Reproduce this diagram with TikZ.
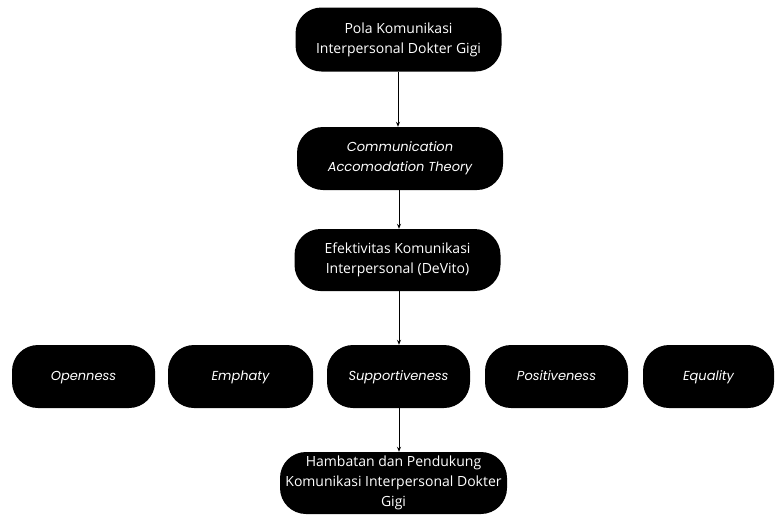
\documentclass[tikz,border=0pt]{standalone}
\usepackage{fontspec}
\setmainfont{Open Sans}
\newfontfamily\itfont{Poppins}[UprightFont=*-Italic]
\usetikzlibrary{arrows.meta}
\tikzset{
  pill/.style={fill=black, rounded corners=26pt, text=white, align=center, inner sep=0pt, font=\fontsize{14}{20}\selectfont},
  pillit/.style={pill, font=\fontsize{13}{20}\selectfont\itfont},
  single/.style={text height=10pt, text depth=3pt},
  conn/.style={draw=black, line width=1pt, -{Stealth[length=5pt,width=4pt]}}
}
\begin{document}
\begin{tikzpicture}[x=1pt,y=-1pt]
\useasboundingbox (0,0) rectangle (776,515);
\node[pill, minimum width=206pt, minimum height=64pt] (a) at (398.5,39.5) {Pola Komunikasi\\Interpersonal Dokter Gigi};
\node[pillit, minimum width=206pt, minimum height=63pt] (b) at (400,158.5) {Communication\\Accomodation Theory};
\node[pill, minimum width=206pt, minimum height=62pt] (c) at (397.5,260) {Efektivitas Komunikasi\\Interpersonal (DeVito)};
\node[pillit, single, minimum width=143pt, minimum height=63pt] (o) at (83.5,376.5) {Openness};
\node[pillit, single, minimum width=145pt, minimum height=63pt] (e) at (240.5,376.5) {Emphaty};
\node[pillit, single, minimum width=143pt, minimum height=63pt] (s) at (398.5,376.5) {Supportiveness};
\node[pillit, single, minimum width=143pt, minimum height=63pt] (p) at (556.5,376.5) {Positiveness};
\node[pillit, single, minimum width=131pt, minimum height=63pt] (q) at (708.5,376.5) {Equality};
\node[pill, minimum width=227pt, minimum height=62pt] (h) at (393.5,483) {Hambatan dan Pendukung\\Komunikasi Interpersonal Dokter\\Gigi};
\draw[conn] (a.south -| 398,0) -- (b.north -| 398,0);
\draw[conn] (b.south -| 399,0) -- (c.north -| 399,0);
\draw[conn] (c.south -| 399,0) -- (s.north -| 399,0);
\draw[conn] (s.south -| 399,0) -- (h.north -| 399,0);
\end{tikzpicture}
\end{document}
